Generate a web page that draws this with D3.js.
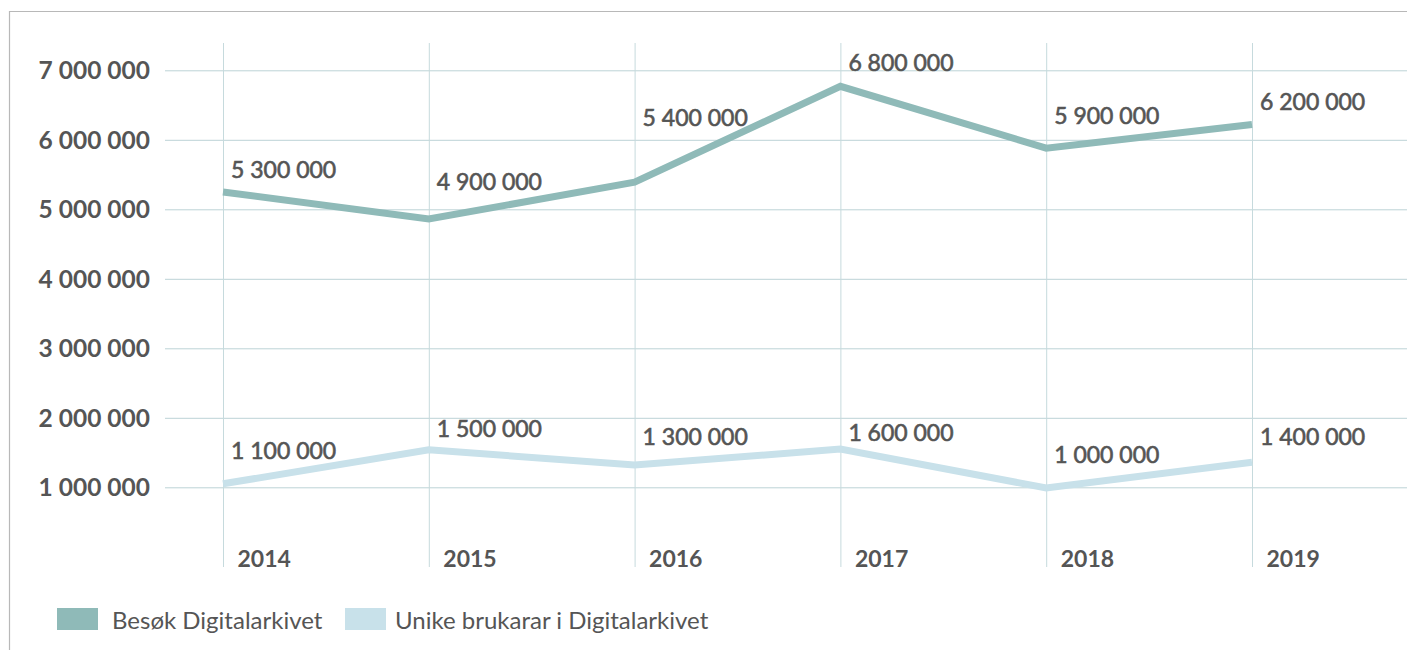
<!DOCTYPE html>
<html>
<head>
<meta charset="utf-8">
<script src="https://cdn.jsdelivr.net/npm/d3@7"></script>
<style>
  html, body { margin: 0; padding: 0; background: #fff; }
  svg { display: block; }
  text { font-family: Lato, "Open Sans", sans-serif; fill: #555; }
</style>
</head>
<body>
<svg id="chart" width="1407" height="650"></svg>
<script>
// ---- data ----
const years = ["2014", "2015", "2016", "2017", "2018", "2019"];
const visits = [5250000, 4860000, 5390000, 6770000, 5880000, 6220000];
const visitLabels = ["5 300 000", "4 900 000", "5 400 000", "6 800 000", "5 900 000", "6 200 000"];
const uniqueUsers = [1050000, 1540000, 1320000, 1550000, 990000, 1360000];
const uniqueLabels = ["1 100 000", "1 500 000", "1 300 000", "1 600 000", "1 000 000", "1 400 000"];
const yTicks = [1000000, 2000000, 3000000, 4000000, 5000000, 6000000, 7000000];
const seriesNames = ["Besøk Digitalarkivet", "Unike brukarar i Digitalarkivet"];
const seriesColors = ["#8fbab8", "#c8e1ea"];

// label baseline offsets (px) relative to each point
const visitLabelDy = [-14, -29, -56, -15, -24, -15];
const uniqueLabelDy = [-25, -13, -20, -8, -25, -17];

const svg = d3.select("#chart");
const W = 1407, H = 650;

// frame
svg.append("line").attr("x1", 9).attr("x2", W).attr("y1", 11.5).attr("y2", 11.5)
  .attr("stroke", "#b8b8b8").attr("stroke-width", 1.2);
svg.append("line").attr("x1", 9.5).attr("x2", 9.5).attr("y1", 11).attr("y2", H)
  .attr("stroke", "#b8b8b8").attr("stroke-width", 1.2);

const x = d3.scalePoint().domain(years).range([223, 1252]);
const y = d3.scaleLinear().domain([0, 7000000]).range([556.8, 70.3]);
const gridLeft = 165, gridRight = W;
const vTop = 43, vBottom = 567;

const fmt = d3.formatLocale({ decimal: ",", thousands: " ", grouping: [3], currency: ["", " kr"] }).format(",d");

// horizontal grid + y labels
const yAxis = d3.axisLeft(y).tickValues(yTicks).tickFormat(fmt)
  .tickSize(-(gridRight - gridLeft)).tickPadding(15);
const gy = svg.append("g").attr("transform", `translate(${gridLeft},0)`).call(yAxis);
gy.select(".domain").remove();
gy.selectAll(".tick line").attr("stroke", "#bcd3d6").attr("stroke-width", 1)
  .attr("x1", 0).attr("x2", gridRight - gridLeft);
gy.selectAll(".tick text").attr("font-size", 24.5).attr("font-weight", 700)
  .attr("fill", "#555").attr("dy", "0.34em").style("font-family", "Lato, sans-serif");

// vertical grid + x labels
const xAxis = d3.axisBottom(x).tickSize(-(vBottom - vTop)).tickPadding(0);
const gx = svg.append("g").attr("transform", `translate(0,${vBottom})`).call(xAxis);
gx.select(".domain").remove();
gx.selectAll(".tick line").attr("stroke", "#c6dadd").attr("stroke-width", 1);
gx.selectAll(".tick text").attr("font-size", 23).attr("font-weight", 700)
  .attr("fill", "#555").attr("text-anchor", "start").attr("x", 14).attr("y", 0).attr("dy", 0)
  .style("font-family", "Lato, sans-serif");

// lines
const line = d3.line().x((d, i) => x(years[i])).y(d => y(d)).curve(d3.curveLinear);
const series = [
  { values: uniqueUsers, labels: uniqueLabels, dy: uniqueLabelDy, color: seriesColors[1] },
  { values: visits, labels: visitLabels, dy: visitLabelDy, color: seriesColors[0] }
];
series.forEach(s => {
  svg.append("path").datum(s.values).attr("d", line)
    .attr("fill", "none").attr("stroke", s.color).attr("stroke-width", 7)
    .attr("stroke-linejoin", "miter");
});
series.forEach(s => {
  svg.append("g").selectAll("text").data(s.values).join("text")
    .attr("x", (d, i) => x(years[i]) + 8)
    .attr("y", (d, i) => y(d) + s.dy[i])
    .attr("font-size", 23).attr("font-weight", 400).attr("fill", "#555")
    .attr("stroke", "#555").attr("stroke-width", 0.6)
    .text((d, i) => s.labels[i]);
});

// legend
const legendX = [57, 345];
const lg = svg.append("g").selectAll("g").data(seriesNames).join("g")
  .attr("transform", (d, i) => `translate(${legendX[i]},608)`);
lg.append("rect").attr("width", 41).attr("height", 22).attr("fill", (d, i) => seriesColors[i]);
lg.append("text").attr("x", (d, i) => i === 0 ? 55 : 50).attr("y", 21).attr("font-size", 24).attr("font-weight", 400)
  .attr("fill", "#666").text(d => d);
</script>
</body>
</html>
